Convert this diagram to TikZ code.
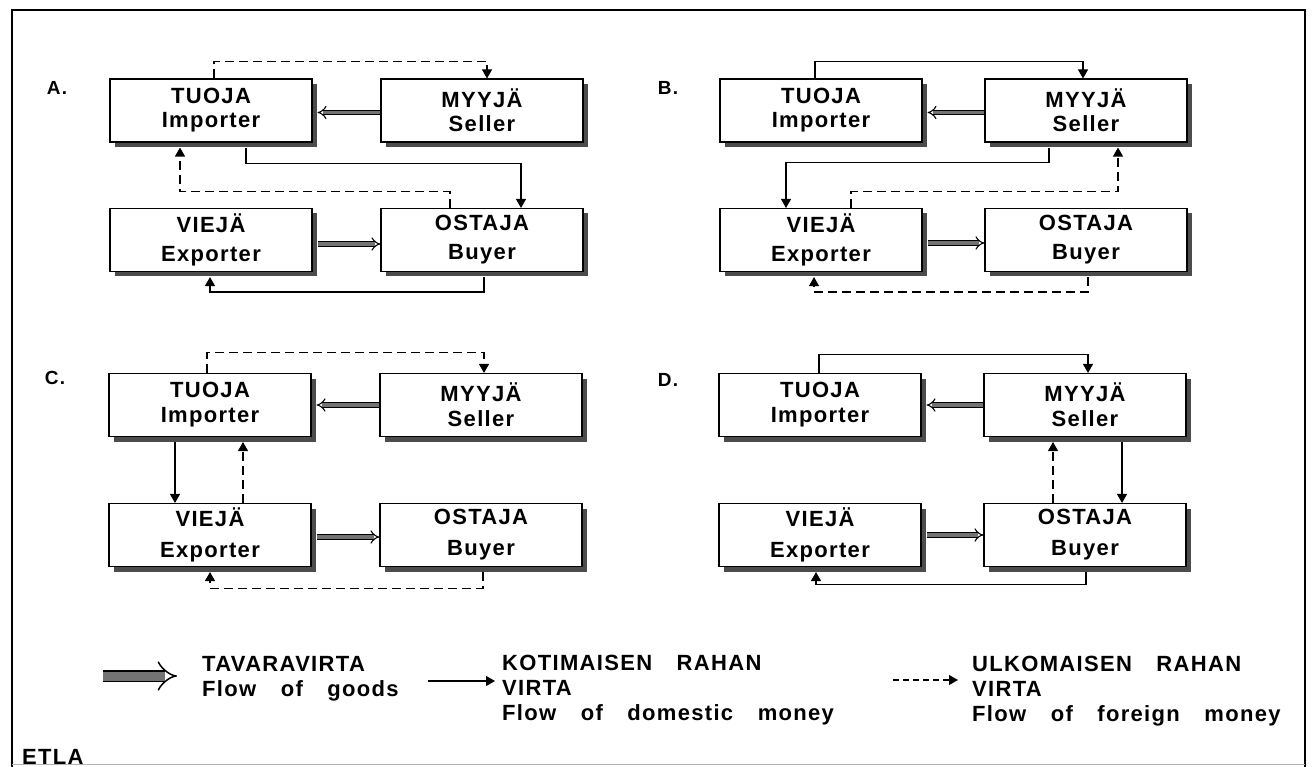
\documentclass[tikz,border=0pt]{standalone}
\usepackage{fontspec}
\setmainfont{Liberation Sans}
\newfontfamily\lblfont[LetterSpace=6,WordSpace=3.3]{Liberation Sans}
\usetikzlibrary{arrows.meta,shadows}
\newcommand{\boxfont}{\lblfont\bfseries\fontsize{22}{23}\selectfont}
\newcommand{\legfont}{\lblfont\bfseries\fontsize{22}{25}\selectfont}
\newcommand{\panfont}{\lblfont\bfseries\fontsize{19}{21}\selectfont}
\begin{document}
\begin{tikzpicture}[x=1pt,y=-1pt,
  pbox/.style={draw, fill=white, line width=1.1pt, minimum width=202pt, minimum height=63pt,
    inner sep=0pt, align=center, font=\boxfont,
    drop shadow={shadow xshift=5pt, shadow yshift=-5pt, fill=black!70, opacity=1}},
  dom/.style={line width=1.1pt, -{Triangle[length=9pt,width=10pt]}},
  frn/.style={dom, dash pattern=on 9pt off 5pt},
  goods/.style={double=black!55, double distance=3.5pt, line width=1.1pt, -{Implies}},
  plabel/.style={font=\panfont, anchor=center, inner sep=0pt},
  legtext/.style={font=\legfont, align=left, anchor=north west, inner sep=0pt},
]
\useasboundingbox (0,0) rectangle (1315,767);
% frame
\draw[line width=2pt] (12,767) -- (12,10) -- (1305,10) -- (1305,767);
\draw[black!30, line width=0.8pt] (12,764) -- (1305,764);

% ---------- Panel A ----------
\node[plabel] (lA) at (57,88) {A.};
\node[pbox] (tA) at (211,110.5) {TUOJA\\[1pt]Importer};
\node[pbox] (mA) at (482,110.5) {MYYJÄ\\[1pt]Seller};
\node[pbox] (vA) at (211,240) {VIEJÄ\\[6pt]Exporter};
\node[pbox] (oA) at (482,240) {OSTAJA\\[6pt]Buyer};
\draw[goods] ([yshift=-2pt]mA.west) -- ([xshift=5pt,yshift=-2pt]tA.east);
\draw[goods] ([xshift=5pt,yshift=-4pt]vA.east) -- ([yshift=-4pt]oA.west);
\draw[frn] ([xshift=3pt]tA.north) -- ([xshift=3pt,yshift=17pt]tA.north) -| ([xshift=5pt]mA.north);
\draw[dom] ([xshift=35pt,yshift=-5pt]tA.south) -- ([xshift=35pt,yshift=-21pt]tA.south) -| ([xshift=39pt]oA.north);
\draw[frn] ([xshift=-32pt]oA.north) -- ([xshift=-32pt,yshift=16pt]oA.north) -| ([xshift=-31pt,yshift=-5pt]tA.south);
\draw[dom] ([xshift=2pt,yshift=-5pt]oA.south) -- ([xshift=2pt,yshift=-20pt]oA.south) -| ([xshift=-1pt,yshift=-5pt]vA.south);

% ---------- Panel B ----------
\node[plabel] (lB) at (668,88) {B.};
\node[pbox] (tB) at (821,110.5) {TUOJA\\[1pt]Importer};
\node[pbox] (mB) at (1086,110.5) {MYYJÄ\\[1pt]Seller};
\node[pbox] (vB) at (821,240) {VIEJÄ\\[6pt]Exporter};
\node[pbox] (oB) at (1086,240) {OSTAJA\\[6pt]Buyer};
\draw[goods] ([yshift=-2pt]mB.west) -- ([xshift=5pt,yshift=-2pt]tB.east);
\draw[goods] ([xshift=5pt,yshift=-3pt]vB.east) -- ([yshift=-3pt]oB.west);
\draw[dom] ([xshift=-6pt]tB.north) -- ([xshift=-6pt,yshift=17pt]tB.north) -| ([xshift=-3pt]mB.north);
\draw[dom] ([xshift=-37pt,yshift=-5pt]mB.south) -- ([xshift=-37pt,yshift=-20pt]mB.south) -| ([xshift=-35pt]vB.north);
\draw[frn] ([xshift=30pt]vB.north) -- ([xshift=30pt,yshift=16pt]vB.north) -| ([xshift=32pt,yshift=-5pt]mB.south);
\draw[frn] ([xshift=2pt,yshift=-5pt]oB.south) -- ([xshift=2pt,yshift=-20pt]oB.south) -| ([xshift=-7pt,yshift=-5pt]vB.south);

% ---------- Panel C ----------
\node[plabel] (lC) at (55,378) {C.};
\node[pbox] (tC) at (210,405) {TUOJA\\[2pt]Importer};
\node[pbox] (mC) at (481,405) {MYYJÄ\\[2pt]Seller};
\node[pbox] (vC) at (210,535) {VIEJÄ\\[8pt]Exporter};
\node[pbox] (oC) at (481,535) {OSTAJA\\[8pt]Buyer};
\draw[goods] (mC.west) -- ([xshift=5pt]tC.east);
\draw[goods] ([xshift=5pt,yshift=-2pt]vC.east) -- ([yshift=-2pt]oC.west);
\draw[frn] ([xshift=-3pt]tC.north) -- ([xshift=-3pt,yshift=20pt]tC.north) -| ([xshift=3pt]mC.north);
\draw[dom] ([xshift=-35pt,yshift=-5pt]tC.south) -- ([xshift=-35pt]vC.north);
\draw[frn] ([xshift=33pt]vC.north) -- ([xshift=33pt,yshift=-5pt]tC.south);
\draw[frn] ([xshift=2pt,yshift=-5pt]oC.south) -- ([xshift=2pt,yshift=-21pt]oC.south) -| ([xshift=0pt,yshift=-5pt]vC.south);

% ---------- Panel D ----------
\node[plabel] (lD) at (668,380) {D.};
\node[pbox] (tD) at (820,405) {TUOJA\\[2pt]Importer};
\node[pbox] (mD) at (1085,405) {MYYJÄ\\[2pt]Seller};
\node[pbox] (vD) at (820,535) {VIEJÄ\\[8pt]Exporter};
\node[pbox] (oD) at (1085,535) {OSTAJA\\[8pt]Buyer};
\draw[goods] (mD.west) -- ([xshift=5pt]tD.east);
\draw[goods] ([xshift=5pt]vD.east) -- (oD.west);
\draw[dom] ([xshift=-1pt]tD.north) -- ([xshift=-1pt,yshift=18pt]tD.north) -| ([xshift=3pt]mD.north);
\draw[frn] ([xshift=-32pt]oD.north) -- ([xshift=-32pt,yshift=-5pt]mD.south);
\draw[dom] ([xshift=37pt,yshift=-5pt]mD.south) -- ([xshift=37pt]oD.north);
\draw[dom] ([xshift=1pt,yshift=-5pt]oD.south) -- ([xshift=1pt,yshift=-17pt]oD.south) -| ([xshift=-4pt,yshift=-5pt]vD.south);

% ---------- Legend ----------
\coordinate (g1) at (103,676);
\coordinate (g2) at (177,676);
\draw[goods, double distance=9pt, line width=1.5pt] (g1) -- (g2);
\node[legtext] (lg1) at (202,656) {TAVARAVIRTA\\Flow of goods};
\coordinate (d1) at (428,681);
\coordinate (d2) at (495,681);
\draw[dom] (d1) -- (d2);
\node[legtext] (lg2) at (502,655) {KOTIMAISEN RAHAN\\VIRTA\\Flow of domestic money};
\coordinate (f1) at (893,680);
\coordinate (f2) at (958,680);
\draw[frn, dash pattern=on 6pt off 4pt] (f1) -- (f2);
\node[legtext] (lg3) at (972,656) {ULKOMAISEN RAHAN\\VIRTA\\Flow of foreign money};
\node[font=\boxfont, anchor=west, inner sep=0pt] (etla) at (22,757) {ETLA};
\end{tikzpicture}
\end{document}
